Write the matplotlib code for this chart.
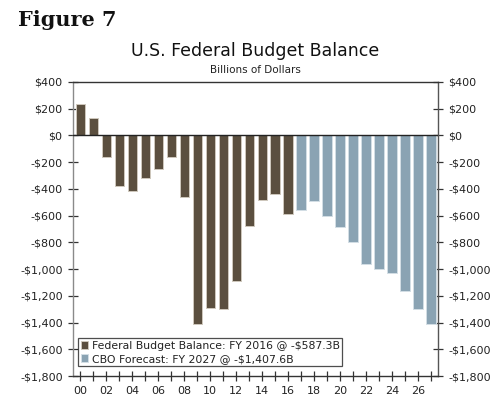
import matplotlib
matplotlib.use("Agg")
import matplotlib.pyplot as plt
from matplotlib.ticker import FuncFormatter, MultipleLocator

years = list(range(2000, 2028))
actual_years = list(range(2000, 2017))
actual_values = [236, 128, -158, -378, -413, -318, -248, -161, -459, -1413,
                 -1294, -1300, -1087, -680, -485, -438, -587.3]
forecast_years = list(range(2017, 2028))
forecast_values = [-559, -487, -601, -684, -797, -959, -1000, -1027, -1165,
                   -1297, -1407.6]
actual_label = r"Federal Budget Balance: FY 2016 @ -\$587.3B"
forecast_label = r"CBO Forecast: FY 2027 @ -\$1,407.6B"
title = "U.S. Federal Budget Balance"
subtitle = "Billions of Dollars"
fig_label = "Figure 7"

brown = "#5b4f3f"
blue = "#8aa3b3"

fig = plt.figure(figsize=(5.0, 3.99), dpi=100)
ax = fig.add_axes([0.146, 0.0576, 0.730, 0.737])

xa = [y - 2000 for y in actual_years]
xf = [y - 2000 for y in forecast_years]
ax.bar(xa, actual_values, width=0.72, color=brown, edgecolor="#cfc8bc",
       linewidth=0.7, label=actual_label, zorder=2)
ax.bar(xf, forecast_values, width=0.72, color=blue, edgecolor="#d3dee5",
       linewidth=0.7, label=forecast_label, zorder=2)
ax.axhline(0, color="#222222", lw=1.0, zorder=3)

ax.set_xlim(-0.57, 27.54)
ax.set_ylim(-1800, 400)
ax.yaxis.set_major_locator(MultipleLocator(200))


def fmt(v, pos):
    v = int(round(v))
    if v < 0:
        return r"-\$" + f"{-v:,}"
    return r"\$" + f"{v:,}"


ax.yaxis.set_major_formatter(FuncFormatter(fmt))
ax.xaxis.set_major_locator(MultipleLocator(2))
ax.xaxis.set_minor_locator(MultipleLocator(1))
ax.xaxis.set_major_formatter(FuncFormatter(lambda v, p: f"{int(round(v)) % 100:02d}"))

ax.tick_params(axis="x", which="both", direction="inout", length=7, width=0.9,
               color="#333333", labelsize=8, labelcolor="#222222", pad=4)
ax.tick_params(axis="y", which="both", direction="inout", length=7, width=0.9,
               color="#333333", labelsize=8, labelcolor="#222222",
               left=True, right=True, labelleft=True, labelright=True, pad=4)

ax.spines["top"].set_color("#333333")
ax.spines["bottom"].set_color("#333333")
ax.spines["left"].set_color("#8a8a8a")
ax.spines["right"].set_color("#555555")
for s in ax.spines.values():
    s.set_linewidth(1.0)

leg = ax.legend(loc="lower left", bbox_to_anchor=(0.008, 0.025), fontsize=7.8,
                frameon=True, fancybox=False, handlelength=0.7, handleheight=0.7,
                handletextpad=0.3, borderpad=0.25, labelspacing=0.25,
                borderaxespad=0.2)
leg.get_frame().set_edgecolor("#222222")
leg.get_frame().set_linewidth(0.9)
for t in leg.get_texts():
    t.set_color("#222222")

fig.text(0.5105, 0.872, title, ha="center", va="center", fontsize=12.5,
         color="#111111")
fig.text(0.5105, 0.824, subtitle, ha="center", va="center", fontsize=7.5,
         color="#222222")
fig.text(0.036, 0.95, fig_label, ha="left", va="center", fontsize=15,
         fontweight="bold", family="DejaVu Serif", color="#111111")

fig.savefig("out.png", dpi=100)
